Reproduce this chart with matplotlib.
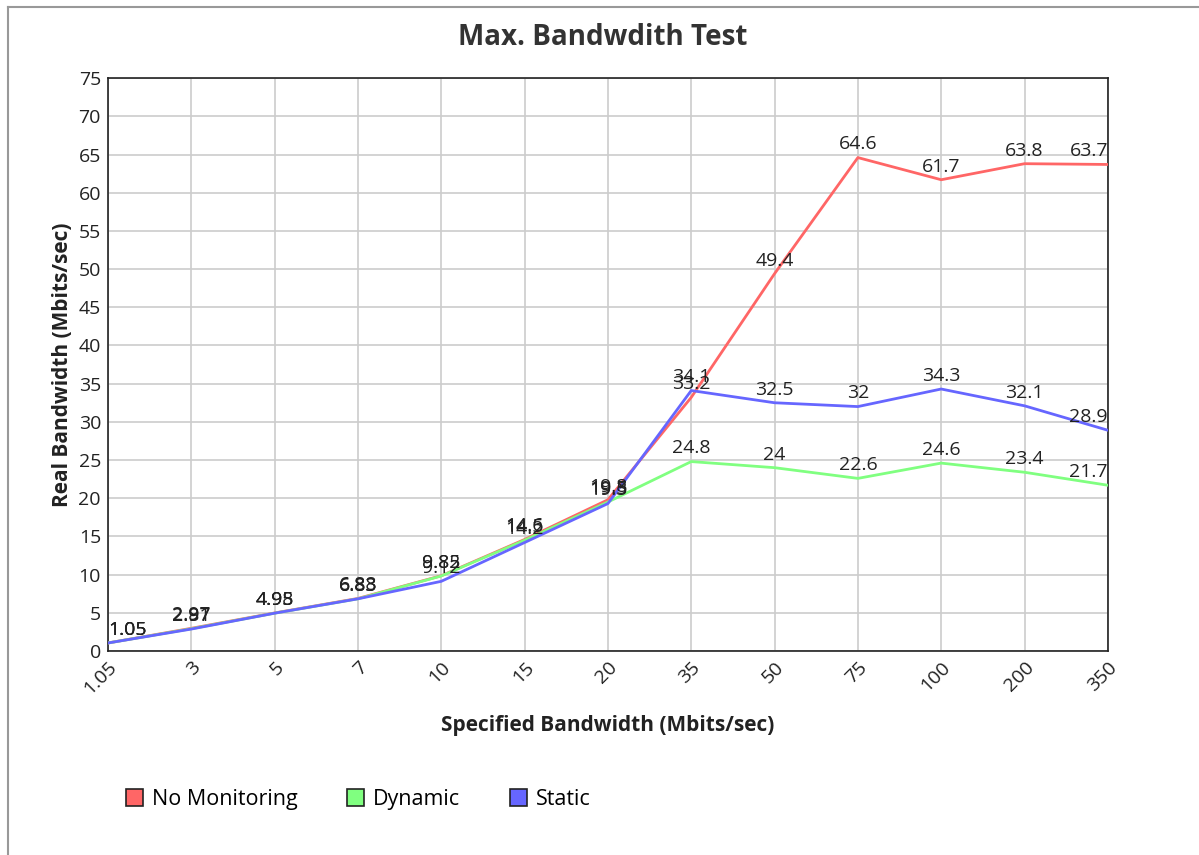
import matplotlib
matplotlib.use("Agg")
import matplotlib.pyplot as plt
from matplotlib.patches import Patch
from matplotlib.lines import Line2D

plt.rcParams['font.family'] = ['Open Sans', 'DejaVu Sans']

# data
categories = ["1.05", "3", "5", "7", "10", "15", "20", "35", "50", "75", "100", "200", "350"]
no_monitoring = [1.05, 2.97, 4.98, 6.88, 9.85, 14.6, 19.8, 33.2, 49.4, 64.6, 61.7, 63.8, 63.7]
dynamic = [1.05, 2.91, 4.95, 6.83, 9.82, 14.5, 19.5, 24.8, 24, 22.6, 24.6, 23.4, 21.7]
static = [1.05, 2.87, 4.95, 6.83, 9.12, 14.2, 19.3, 34.1, 32.5, 32, 34.3, 32.1, 28.9]

series = [
    ("No Monitoring", no_monitoring, "#ff6666"),
    ("Dynamic", dynamic, "#80ff80"),
    ("Static", static, "#6666ff"),
]

fig = plt.figure(figsize=(11.99, 8.55), dpi=100)
ax = fig.add_axes([0.090, 0.2386, 0.834, 0.670])

x = list(range(len(categories)))
last = len(categories) - 1
for name, vals, color in series:
    ax.plot(x, vals, color=color, lw=2.0, zorder=3)
    for xi, v in zip(x, vals):
        # keep the end labels inside the plot area, like the original
        ha = "left" if xi == 0 else ("right" if xi == last else "center")
        ax.annotate(f"{v:g}", (xi, v), xytext=(0, 3), textcoords="offset points",
                    ha=ha, va="bottom", fontsize=14, color="#222222", zorder=4)

ax.set_xlim(0, last)
ax.set_ylim(0, 75)
ax.set_yticks(range(0, 80, 5))
ax.set_xticks(x)
ax.set_xticklabels(categories, rotation=45, ha="right", rotation_mode="anchor")
ax.tick_params(labelsize=14, length=0, pad=5, colors="#222222")
ax.grid(True, color="#cccccc", lw=1.2)
ax.set_axisbelow(True)
for s in ax.spines.values():
    s.set_color("#222222")
    s.set_linewidth(1.2)

ax.set_xlabel("Specified Bandwidth (Mbits/sec)", fontsize=15, fontweight="bold",
              color="#222222", labelpad=12)
ax.set_ylabel("Real Bandwidth (Mbits/sec)", fontsize=15, fontweight="bold",
              color="#222222", labelpad=4)
fig.text(0.503, 0.956, "Max. Bandwdith Test", ha="center", va="center",
         fontsize=20, fontweight="bold", color="#333333")

# legend at the bottom
handles = [Patch(facecolor=c, edgecolor="#222222", lw=1.2, label=n) for n, _, c in series]
fig.legend(handles=handles, loc="center left", bbox_to_anchor=(0.089, 0.065), ncol=3,
           frameon=False, fontsize=15.5, handlelength=0.8, handleheight=0.8,
           handletextpad=0.4, columnspacing=2.3)

# outer frame lines (top and left)
fig.add_artist(Line2D([8 / 1199, 1], [1 - 7 / 855, 1 - 7 / 855], color="#999999", lw=1.5))
fig.add_artist(Line2D([8 / 1199, 8 / 1199], [0, 1 - 7 / 855], color="#999999", lw=1.5))

fig.savefig("out.png", dpi=100)
